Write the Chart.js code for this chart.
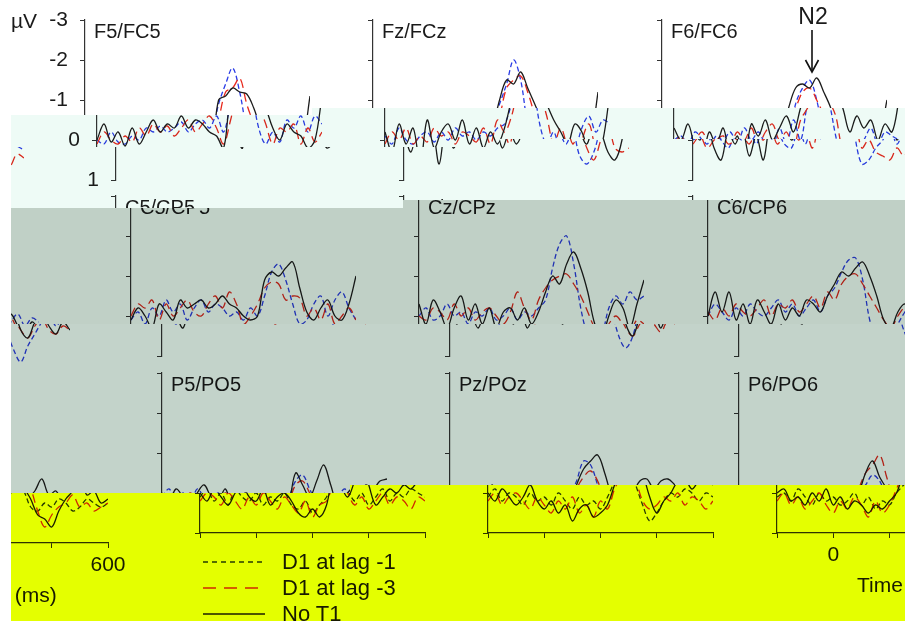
<!DOCTYPE html>
<html>
<head>
<meta charset="utf-8">
<script src="https://cdn.jsdelivr.net/npm/chart.js@4.4.1/dist/chart.umd.min.js"></script>
<style>
html, body { margin: 0; padding: 0; background: #fff; }
body { width: 905px; height: 621px; position: relative; overflow: hidden;
       font-family: "Liberation Sans", Arial, sans-serif; color: #1a1a1a; }
.band { position: absolute; left: 0; top: 0; width: 905px; height: 621px; background: #fff; overflow: hidden; }
.win  { position: absolute; height: 640px; overflow: hidden; }
.fig  { position: absolute; top: 0; width: 905px; height: 640px; }
.tint { position: absolute; left: 0; top: 0; width: 905px; height: 621px; mix-blend-mode: multiply; }
.txt  { position: absolute; white-space: nowrap; line-height: 1; }
canvas { position: absolute; }
</style>
</head>
<body>
<script>
// time axis (ms), one sample every 25 ms
const TIMES = [-200, -175, -150, -125, -100, -75, -50, -25, 0, 25, 50, 75, 100, 125, 150, 175,
  200, 225, 250, 275, 300, 325, 350, 375, 400, 425, 450, 475, 500, 525, 550, 575, 600];

const SERIES_NAMES = ['D1 at lag -1', 'D1 at lag -3', 'No T1'];
const PANEL_NAMES = ['F5/FC5', 'Fz/FCz', 'F6/FC6', 'C5/CP5', 'Cz/CPz', 'C6/CP6', 'P5/PO5', 'Pz/POz', 'P6/PO6'];
const Y_TICKS = [-3, -2, -1, 0, 1];
const X_TICKS = [-200, 0, 200, 400, 600];
const X_LABELLED = [0, 600];

// µV values (negative up)
const F5_LAG1 = [0, 0.1, -0.2, 0.05, 0.1, -0.1, 0, -0.3, -0.2, -0.35, -0.2, -0.3, -0.45, -0.2, -0.4, -0.5, -0.3, -0.6, -0.2, -0.9, -1.4, -1.8, -1.2, -0.3, 0.1, -0.2, 0.05, -0.5, -0.3, -0.6, -0.2, -0.6, -0.4];
const F5_LAG3 = [0.1, -0.2, 0, 0.1, -0.1, 0.05, -0.3, -0.1, -0.4, -0.2, -0.35, -0.1, -0.3, -0.5, -0.2, -0.4, -0.6, -0.3, 0.1, -0.5, -1.2, -1.3, -1.55, -0.9, -0.4, 0.1, -0.3, -0.2, -0.4, 0.1, -0.3, 0.05, -0.2];
const F5_NOT1 = [0, -0.4, 0.05, -0.2, 0.15, -0.3, 0.1, -0.2, -0.5, -0.2, -0.4, -0.3, -0.6, -0.3, -0.5, -0.4, -0.2, -0.1, 0.2, -1.0, -1.1, -1.3, -1.2, -1.15, -0.8, -0.3, 0, -0.4, -0.2, -0.1, 0.2, 0, -1.1];

const FZ_LAG1 = [-0.1, 0.1, -0.3, 0, 0.1, -0.1, -0.2, 0.05, -0.2, 0, -0.3, -0.1, -0.2, 0, -0.2, -0.1, -0.3, -0.4, -0.9, -1.4, -2.0, -1.5, -0.4, 0.1, -0.2, 0.4, 0.6, 0.3, -0.3, -0.6, -0.2, -0.5, -0.4];
const FZ_LAG3 = [0.1, -0.2, 0, -0.3, 0.1, -0.1, 0.05, -0.3, -0.1, -0.2, 0.1, -0.2, -0.1, 0.05, -0.3, 0.1, -0.5, -0.2, -0.6, -1.3, -1.5, -1.6, -1.2, -0.6, 0.1, -0.3, 0.2, 0.5, 0, -0.4, 0.2, 0.3, 0.2];
const FZ_NOT1 = [-0.2, 0.3, -0.4, 0.1, -0.3, 0.6, -0.5, 0.2, -0.2, -0.4, 0, -0.5, 0.1, -0.3, 0.2, -0.2, 0.1, -0.3, -1.0, -1.5, -1.4, -1.7, -1.3, -0.9, -0.5, -0.2, 0.1, -0.4, -0.2, 0.3, 0.5, 0, -1.2];

const F6_LAG1 = [0, -0.1, 0.1, -0.2, 0, 0.2, -0.1, 0, -0.2, 0.1, -0.3, 0, -0.2, 0.1, 0.2, -0.3, 0.1, -0.5, 0, -0.9, -1.3, -1.5, -1.0, -0.1, 0.6, 0.5, 0.2, 0, -0.3, 0.1, -0.2, -0.1, 0];
const F6_LAG3 = [0.1, -0.1, 0.2, 0, -0.2, 0.1, 0, -0.1, 0.1, -0.2, 0, -0.3, 0.1, -0.2, -0.4, 0, -0.2, 0.2, -0.5, -0.8, -1.2, -1.3, -1.0, -0.6, 0.2, 0, 0.3, 0.4, 0.5, 0.2, 0.4, 0.1, 0.2];
const F6_NOT1 = [-0.3, 0, -0.4, 0.2, 0.5, -0.2, 0.1, -0.3, 0.4, -0.1, 0.5, -0.4, -0.1, -0.5, 0, -0.3, -0.6, -0.2, -0.8, -1.3, -1.4, -1.3, -1.55, -1.2, -0.8, -0.2, -0.6, -0.3, -0.5, 0, -0.4, -0.2, -1.0];

const C5_LAG1 = [0.1, -0.1, 0.2, -0.2, 0, -0.4, -0.1, -0.3, 0.1, -0.2, -0.4, -0.1, -0.3, -0.2, 0, -0.1, 0.1, -0.2, 0, -0.5, -1.1, -1.3, -0.9, -0.3, 0.2, 0.1, -0.3, -0.5, 0, -0.4, -0.6, -0.2, 0.1];
const C5_LAG3 = [0, -0.3, -0.2, -0.4, 0.1, -0.3, 0, -0.2, -0.4, -0.1, 0, -0.3, -0.5, -0.2, -0.6, -0.3, 0.2, 0, -0.3, -0.7, -0.85, -0.8, -0.4, -0.5, -0.45, 0, -0.2, 0.1, -0.3, 0.2, 0, -0.2, 0.1];
const C5_NOT1 = [0.1, -0.2, 0, 0.3, -0.3, -0.1, 0.1, -0.4, -0.2, -0.3, -0.4, -0.2, -0.3, -0.5, -0.3, -0.2, 0, 0.1, 0, -0.9, -1.1, -1.0, -1.2, -1.35, -0.7, -0.1, 0.1, -0.2, -0.4, 0, 0.1, -0.3, -1.0];

const CZ_LAG1 = [0, -0.2, 0.1, 0, -0.3, 0, -0.1, 0.2, -0.1, 0, -0.2, 0.1, 0, -0.2, 0.1, -0.1, 0, -0.2, -0.4, -1.2, -1.8, -2.0, -1.3, -0.2, 0.5, 0.8, 0.5, -0.2, -0.5, -0.3, -0.6, -0.4, -0.5];
const CZ_LAG3 = [0, 0.1, -0.2, -0.1, 0.1, -0.3, 0, -0.2, 0.1, -0.1, -0.2, 0, 0.2, -0.1, -0.6, -0.2, 0.1, -0.4, -0.7, -0.9, -1.0, -1.05, -0.8, -0.5, -0.1, 0.3, 0.5, 0.2, 0, 0.2, 0.4, 0.1, 0.2];
const CZ_NOT1 = [-0.3, 0.2, -0.4, -0.1, 0.3, -0.2, -0.5, 0.1, -0.3, 0.2, -0.2, 0.3, -0.1, -0.2, 0.1, -0.2, 0.2, -0.1, -0.6, -1.0, -0.8, -1.3, -1.6, -1.2, -0.6, 0.2, 0.5, 0, -0.4, -0.2, 0.3, -0.3, -0.9];

const C6_LAG1 = [0, -0.3, -0.1, 0.1, -0.2, 0, -0.3, -0.1, 0, -0.2, -0.4, -0.1, -0.3, 0, -0.2, -0.4, -0.1, -0.5, -0.7, -1.1, -1.4, -1.45, -0.9, 0.1, 0.6, 0.9, 0.5, 0.2, -0.1, -0.3, 0, -0.2, -0.1];
const C6_LAG3 = [-0.1, 0.1, -0.2, 0, -0.3, -0.1, 0, -0.2, -0.4, 0, -0.3, -0.2, -0.4, -0.1, -0.3, -0.5, -0.2, -0.6, -0.4, -0.8, -1.0, -1.05, -0.8, -0.5, -0.2, 0.1, 0.3, 0, -0.2, 0.1, 0.2, 0, 0.1];
const C6_NOT1 = [0, -0.6, -0.1, -0.6, 0.1, -0.3, 0.2, -0.4, -0.1, 0.2, -0.3, 0.1, -0.2, 0, -0.4, -0.3, -0.1, -0.5, -0.8, -1.1, -1.0, -1.2, -1.35, -1.0, -0.5, 0.1, 0.3, -0.1, -0.3, 0, 0.2, -0.1, 0.1];

const P5_LAG1 = [0.1, -0.1, 0.2, 0, 0.3, -0.1, 0.1, 0.2, 0, 0.3, 0.1, 0.2, 0, 0.3, 0.4, 0.2, 0.5, 0.3, 0.1, -0.3, -0.45, -0.1, 0.2, 0, 0.3, 0.1, -0.1, 0.2, 0, 0.1, -0.1, 0, 0.1];
const P5_LAG3 = [0.2, 0, 0.1, 0.3, 0, 0.2, 0.4, 0.1, 0.3, 0, 0.2, 0.4, 0.1, 0.3, 0.5, 0.2, 0.6, 0.3, 0.2, -0.2, -0.3, 0, 0.3, 0.1, 0.4, 0.2, 0, 0.3, 0.1, 0.2, 0.4, 0.1, 0.2];
const P5_NOT1 = [0, 0.2, -0.1, 0.1, 0.3, 0, -0.2, 0.1, 0.2, -0.1, 0.3, 0.1, 0, 0.2, 0.5, 0.6, 0.4, 0.6, 0.3, -0.5, -0.2, 0.1, -0.3, -0.7, -0.2, 0.3, 0.1, -0.1, 0, -0.2, -0.1, -0.3, -0.35];

const PZ_LAG1 = [0.1, -0.1, 0.2, 0, 0.1, 0.3, 0, 0.2, 0.1, 0.3, 0, 0.2, 0.4, 0.1, 0.3, 0.2, 0.4, 0.1, -0.3, -0.8, -0.7, -0.2, 0.3, 0.7, 0.5, 0.2, 0, 0.1, -0.1, 0, 0.2, 0, 0.1];
const PZ_LAG3 = [0.2, 0, 0.3, 0.1, 0, 0.2, 0.4, 0.1, 0.3, 0.5, 0.2, 0.4, 0.1, 0.5, 0.3, 0.6, 0.2, 0.4, -0.1, -0.4, -0.55, -0.3, 0.2, 0.4, 0.3, 0.1, 0.2, 0, 0.3, 0.1, 0.2, 0.4, 0.2];
const PZ_NOT1 = [0, 0.2, -0.1, 0.1, 0.3, 0.1, -0.2, 0.2, 0.4, 0.2, 0.5, 0.3, 0.7, 0.4, 0.3, 0.6, 0.5, 0.3, -0.2, -0.6, -0.8, -0.95, -0.5, 0.1, 0.5, 0.2, 0, -0.3, -0.35, -0.1, -0.3, -0.35, -0.2];

const P6_LAG1 = [0.1, 0, 0.2, -0.1, 0.1, 0.3, 0, 0.2, 0.1, 0.3, 0.2, 0, 0.3, 0.1, 0.4, 0.2, 0.3, 0, -0.2, -0.45, -0.3, 0.1, 0.2, 0, 0.1, -0.1, 0, 0.2, 0.1, -0.1, 0, 0.1, 0];
const P6_LAG3 = [0.2, 0, 0.3, 0.1, 0.4, 0.2, 0, 0.3, 0.5, 0.2, 0.4, 0.1, 0.3, 0.6, 0.2, 0.5, 0.3, -0.1, -0.5, -0.7, -0.95, -0.4, 0.2, 0.6, 0.3, 0.1, 0, -0.2, 0.1, 0, 0.2, 0.1, 0];
const P6_NOT1 = [0, -0.1, 0.2, 0.1, 0.3, 0, 0.2, -0.1, 0.3, 0.1, 0.4, 0.2, 0.3, 0.5, 0.3, 0.4, 0.2, 0, -0.5, -0.8, -0.4, -0.1, 0.3, 0.4, 0.6, 0.2, -0.1, -0.3, -0.6, -0.2, -0.3, 0, -0.1];

const PANEL_DATA = [
  [F5_LAG1, F5_LAG3, F5_NOT1], [FZ_LAG1, FZ_LAG3, FZ_NOT1], [F6_LAG1, F6_LAG3, F6_NOT1],
  [C5_LAG1, C5_LAG3, C5_NOT1], [CZ_LAG1, CZ_LAG3, CZ_NOT1], [C6_LAG1, C6_LAG3, C6_NOT1],
  [P5_LAG1, P5_LAG3, P5_NOT1], [PZ_LAG1, PZ_LAG3, PZ_NOT1], [P6_LAG1, P6_LAG3, P6_NOT1]
];

// layout of the clean figure
const PANEL_X = [85, 373, 662];
const PANEL_Y = [20, 196, 373];
const PANEL_W = 225, PANEL_H = 160;
const LINE_STYLE = [
  { color: '#2a3ce6', dash: [5, 3] },
  { color: '#e8281c', dash: [9, 5] },
  { color: '#1c1c1c', dash: [] }
];
const FONT = '"Liberation Sans", Arial, sans-serif';

// the picture is cut in horizontal strips, each one slid to the right (and wrapped)
// top/bot: [xSplit, yLeftOfSplit, yRightOfSplit]
const WRAP = 894, WRAP_DY = 10;
const BANDS = [
  { dx: 0,   tint: null,      top: [0, 0, 0],       bot: [312, 115, 108] },
  { dx: 12,  tint: '#eefbf6', top: [312, 115, 108], bot: [500, 147, 139] },
  { dx: 31,  tint: '#eefbf6', top: [500, 147, 139], bot: [403, 208, 200] },
  { dx: 46,  tint: '#c0d0c6', top: [403, 208, 200], bot: [0, 324, 324] },
  { dx: 77,  tint: '#c3d3ca', top: [0, 324, 324],   bot: [350, 493, 485] },
  { dx: 115, tint: '#e4ff00', top: [350, 493, 485], bot: [0, 621, 621] }
];

function addText(fig, str, x, y, size, center) {
  const d = document.createElement('div');
  d.className = 'txt';
  d.textContent = str;
  d.style.fontSize = size + 'px';
  d.style.top = (y - size / 2) + 'px';
  d.style.left = x + 'px';
  if (center) d.style.transform = 'translateX(-50%)';
  fig.appendChild(d);
}

function makePanel(fig, r, c) {
  const bottomRow = r === 2;
  const cv = document.createElement('canvas');
  const w = 45 + PANEL_W + 25, h = 10 + PANEL_H + (bottomRow ? 40 : 10);
  cv.width = w; cv.height = h;
  cv.style.left = (PANEL_X[c] - 45) + 'px';
  cv.style.top = (PANEL_Y[r] - 10) + 'px';
  fig.appendChild(cv);

  const vals = PANEL_DATA[r * 3 + c];
  const datasets = vals.map((v, i) => ({
    label: SERIES_NAMES[i],
    data: TIMES.map((t, k) => ({ x: t, y: v[k] })),
    borderColor: LINE_STYLE[i].color,
    borderDash: LINE_STYLE[i].dash,
    borderWidth: 1.3,
    pointRadius: 0,
    tension: 0.35,
    fill: false
  }));
  datasets.reverse();

  const noPad = s => { s.paddingTop = 0; s.paddingBottom = 0; s.paddingLeft = 0; s.paddingRight = 0; };

  new Chart(cv, {
    type: 'line',
    data: { datasets },
    options: {
      responsive: false,
      animation: false,
      devicePixelRatio: 1,
      events: [],
      layout: { padding: { top: 10, right: 25, bottom: bottomRow ? 0 : 10, left: 0 } },
      plugins: { legend: { display: false }, tooltip: { enabled: false } },
      scales: {
        x: {
          type: 'linear', min: -200, max: 600, display: bottomRow,
          afterBuildTicks: s => { s.ticks = X_TICKS.map(v => ({ value: v })); },
          afterFit: s => { noPad(s); s.height = bottomRow ? 40 : 0; },
          grid: { drawOnChartArea: false, tickLength: 5, color: '#333' },
          border: { color: '#333', width: 1.2 },
          ticks: {
            autoSkip: false, maxRotation: 0, padding: 5,
            color: '#1a1a1a', font: { family: FONT, size: 21 },
            callback: v => (c === 2 && X_LABELLED.includes(v)) ? String(v) : ''
          }
        },
        y: {
          type: 'linear', min: -3, max: 1, reverse: true,
          afterBuildTicks: s => { s.ticks = Y_TICKS.map(v => ({ value: v })); },
          afterFit: s => { noPad(s); s.width = 45; },
          grid: { drawOnChartArea: false, tickLength: 5, color: '#333' },
          border: { color: '#333', width: 1.2 },
          ticks: {
            display: r === 0 && c === 0, padding: 12,
            color: '#1a1a1a', font: { family: FONT, size: 21 }
          }
        }
      }
    }
  });
  addText(fig, PANEL_NAMES[r * 3 + c], PANEL_X[c] + 9, PANEL_Y[r] + 11, 20);
}

function buildFigure(fig, yMin, yMax) {
  for (let r = 0; r < 3; r++) {
    if (PANEL_Y[r] - 20 > yMax || PANEL_Y[r] + 200 < yMin) continue;
    for (let c = 0; c < 3; c++) makePanel(fig, r, c);
  }
  if (yMin < 30) addText(fig, '\u00b5V', 11, 20, 21);
  if (yMin < 80) {
    addText(fig, 'N2', 813, 16, 23, true);
    fig.insertAdjacentHTML('beforeend',
      '<svg width="905" height="100" style="position:absolute;left:0;top:0">' +
      '<line x1="812" y1="30" x2="812" y2="71" stroke="#111" stroke-width="1.6"/>' +
      '<polyline points="805.5,60 812,72 818.5,60" fill="none" stroke="#111" stroke-width="1.6"/></svg>');
  }
  if (yMax > 540) {
    const ys = [562, 588, 614];
    let svg = '<svg width="905" height="640" style="position:absolute;left:0;top:0">';
    ys.forEach((y, i) => {
      const st = LINE_STYLE[i];
      svg += '<line x1="88" y1="' + y + '" x2="150" y2="' + y + '" stroke="' + st.color +
        '" stroke-width="1.5"' + (st.dash.length ? ' stroke-dasharray="' + (i === 0 ? '5 4' : '13 8') + '"' : '') + '/>';
    });
    svg += '</svg>';
    fig.insertAdjacentHTML('beforeend', svg);
    ys.forEach((y, i) => addText(fig, SERIES_NAMES[i], 167, y, 22));
    addText(fig, 'Time (ms)', 742, 584, 21);
  }
}

BANDS.forEach(b => {
  const band = document.createElement('div');
  band.className = 'band';
  const xl = b.dx ? 11 : 0;
  const [xt, ylt, yrt] = b.top, [xb, ylb, yrb] = b.bot;
  band.style.clipPath = 'polygon(' + [
    [xl, ylt], [xt, ylt], [xt, yrt], [905, yrt],
    [905, yrb], [xb, yrb], [xb, ylb], [xl, ylb]
  ].map(p => p[0] + 'px ' + p[1] + 'px').join(',') + ')';
  document.body.appendChild(band);

  const yMin = Math.min(ylt, yrt), yMax = Math.max(ylb, yrb);
  const copies = [{ x: b.dx + xl, dy: 0 }];
  if (b.dx) copies.push({ x: b.dx + xl - WRAP, dy: WRAP_DY });
  copies.forEach(cp => {
    const win = document.createElement('div');
    win.className = 'win';
    win.style.left = cp.x + 'px';
    win.style.top = cp.dy + 'px';
    win.style.width = (905 - xl) + 'px';
    const fig = document.createElement('div');
    fig.className = 'fig';
    fig.style.left = (-xl) + 'px';
    win.appendChild(fig);
    band.appendChild(win);
    buildFigure(fig, yMin - cp.dy - 5, yMax - cp.dy + 5);
  });

  if (b.tint) {
    const t = document.createElement('div');
    t.className = 'tint';
    t.style.background = b.tint;
    band.appendChild(t);
  }
});
</script>
</body>
</html>
